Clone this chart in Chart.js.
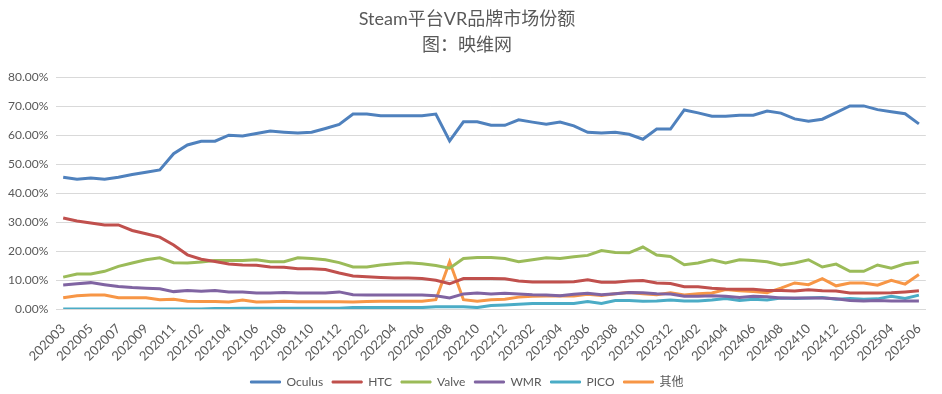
<!DOCTYPE html>
<html>
<head>
<meta charset="utf-8">
<script src="https://cdn.jsdelivr.net/npm/chart.js@4/dist/chart.umd.min.js"></script>
<style>
  html, body { margin: 0; padding: 0; background: #fff; }
  #wrap { width: 942px; height: 394px; }
</style>
</head>
<body>
<div id="wrap"><canvas id="chartLine" width="942" height="394"></canvas></div>
<script>
// 月份（202101 缺失）
const months = [
  '202003','202004','202005','202006','202007','202008','202009','202010','202011','202012',
  '202102','202103','202104','202105','202106','202107','202108','202109','202110','202111','202112',
  '202201','202202','202203','202204','202205','202206','202207','202208','202209','202210','202211','202212',
  '202301','202302','202303','202304','202305','202306','202307','202308','202309','202310','202311','202312',
  '202401','202402','202403','202404','202405','202406','202407','202408','202409','202410','202411','202412',
  '202501','202502','202503','202504','202505','202506'
];

const oculus = [45.5,44.8,45.2,44.8,45.5,46.4,47.2,48.0,53.6,56.6,57.9,57.9,60.0,59.7,60.6,61.4,61.0,60.7,61.0,62.3,63.7,
  67.3,67.3,66.7,66.7,66.7,66.7,67.3,58.0,64.6,64.6,
  63.4,63.4,65.3,64.5,63.8,64.5,63.2,61.0,60.7,61.0,
  60.3,58.6,62.1,62.1,68.7,67.7,66.5,66.5,66.9,66.9,
  68.3,67.6,65.6,64.8,65.5,67.8,70.1,70.1,68.8,68.1,67.4,63.9];
const htc = [31.4,30.4,29.7,29.0,29.0,27.1,26.0,24.8,22.1,18.7,17.2,16.4,15.5,15.2,15.1,14.5,14.4,13.9,13.9,13.6,12.4,
  11.4,11.1,10.9,10.7,10.7,10.5,9.9,8.7,10.5,10.5,
  10.5,10.4,9.7,9.3,9.3,9.3,9.4,10.1,9.2,9.2,
  9.7,9.8,9.0,8.8,7.7,7.7,7.2,6.9,6.8,6.8,
  6.4,6.4,6.2,6.6,6.3,6.2,5.5,5.5,5.5,5.6,5.9,6.3];
const valve = [11.0,12.1,12.1,13.0,14.7,15.9,17.0,17.7,16.0,15.9,16.2,16.7,16.7,16.7,17.0,16.3,16.3,17.7,17.4,17.0,16.0,
  14.5,14.5,15.2,15.6,16.0,15.6,15.0,14.1,17.4,17.8,
  17.8,17.4,16.3,17.0,17.7,17.4,18.0,18.5,20.2,19.5,
  19.4,21.4,18.6,18.1,15.3,15.9,17.0,15.9,17.0,16.7,
  16.3,15.2,15.9,17.0,14.5,15.5,13.0,13.0,15.2,14.1,15.6,16.2];
const wmr = [8.3,8.7,9.1,8.4,7.8,7.4,7.2,7.0,6.0,6.4,6.1,6.4,5.9,5.9,5.5,5.5,5.7,5.5,5.5,5.5,5.9,
  4.9,4.8,4.8,4.8,4.8,4.8,4.6,3.8,5.2,5.5,
  5.2,5.4,5.2,4.9,4.8,4.6,5.1,5.4,4.9,5.3,
  5.7,5.6,5.3,5.2,4.4,4.4,4.6,4.4,4.0,4.4,
  4.2,3.8,3.8,3.8,3.8,3.5,2.9,2.8,2.9,2.8,2.8,2.8];
const pico = [0.0,0.0,0.0,0.0,0.0,0.0,0.0,0.0,0.0,0.0,0.0,
  0.2,0.2,0.3,0.3,0.3,0.3,0.3,0.3,0.3,0.3,
  0.5,0.5,0.5,0.5,0.5,0.5,0.8,0.8,0.8,0.5,
  1.2,1.4,1.6,1.9,1.9,1.9,1.9,2.6,1.9,2.9,
  2.9,2.7,2.8,3.1,2.8,2.8,3.1,3.6,2.9,3.4,
  3.1,3.8,3.6,3.8,4.0,3.4,3.6,3.4,3.5,4.4,3.6,4.8];
const others = [3.9,4.6,4.8,4.8,3.9,3.9,3.9,3.2,3.4,2.7,2.6,2.6,2.4,3.1,2.4,2.5,2.7,2.5,2.5,2.5,2.5,
  2.4,2.6,2.7,2.7,2.7,2.7,3.2,16.3,3.2,2.7,
  3.2,3.4,4.1,4.4,4.5,4.5,4.5,5.1,4.7,5.3,
  5.7,5.3,4.9,5.6,4.8,5.3,5.5,6.7,6.3,6.0,
  5.6,7.2,9.0,8.4,10.5,8.0,9.0,9.0,8.2,9.9,8.6,11.9];

const yTicks = [0, 10, 20, 30, 40, 50, 60, 70, 80];

const fontFam = 'Lato, "Noto Sans CJK SC", sans-serif';
const grey = '#595959';

function line(label, values, color) {
  return {
    label: label,
    data: values,
    borderColor: color,
    backgroundColor: color,
    borderWidth: 3,
    pointRadius: 0,
    tension: 0,
    fill: false
  };
}

const ctx = document.getElementById('chartLine').getContext('2d');
const chartLine = new Chart(ctx, {
  type: 'line',
  data: {
    labels: months,
    datasets: [
      line('Oculus', oculus, '#4F81BD'),
      line('HTC', htc, '#C0504D'),
      line('Valve', valve, '#9BBB59'),
      line('WMR', wmr, '#8064A2'),
      line('PICO', pico, '#4BACC6'),
      line('其他', others, '#F79646')
    ]
  },
  options: {
    responsive: false,
    animation: false,
    layout: { padding: { left: 0, right: 8, top: 0, bottom: -4 } },
    plugins: {
      title: {
        display: true,
        text: ['Steam平台VR品牌市场份额', '图：映维网'],
        color: grey,
        font: { family: fontFam, size: 18, weight: 'normal', lineHeight: 1.45 },
        padding: { top: 6, bottom: 19 }
      },
      legend: {
        position: 'bottom',
        labels: {
          color: grey,
          font: { family: fontFam, size: 12 },
          boxWidth: 30,
          boxHeight: 2,
          padding: 9,
          generateLabels: function (chart) {
            const items = Chart.defaults.plugins.legend.labels.generateLabels(chart);
            items.forEach(function (it) { it.lineWidth = 1; });
            return items;
          }
        }
      },
      tooltip: { enabled: false }
    },
    scales: {
      x: {
        offset: true,
        grid: { display: false, drawTicks: false },
        border: { color: '#D9D9D9' },
        afterFit: function (axis) { axis.height = 58; },
        ticks: {
          color: grey,
          font: { family: fontFam, size: 13 },
          autoSkip: false,
          minRotation: 45,
          maxRotation: 45,
          padding: 12,
          callback: function (v, i) { return i % 2 === 0 ? months[i] : ''; }
        }
      },
      y: {
        min: yTicks[0],
        max: yTicks[yTicks.length - 1],
        afterBuildTicks: function (axis) { axis.ticks = yTicks.map(function (v) { return { value: v }; }); },
        grid: { color: '#D9D9D9', drawTicks: false },
        border: { display: false },
        ticks: {
          color: grey,
          font: { family: fontFam, size: 12 },
          padding: 8,
          callback: function (v) { return v.toFixed(2) + '%'; }
        }
      }
    }
  }
});
</script>
</body>
</html>
